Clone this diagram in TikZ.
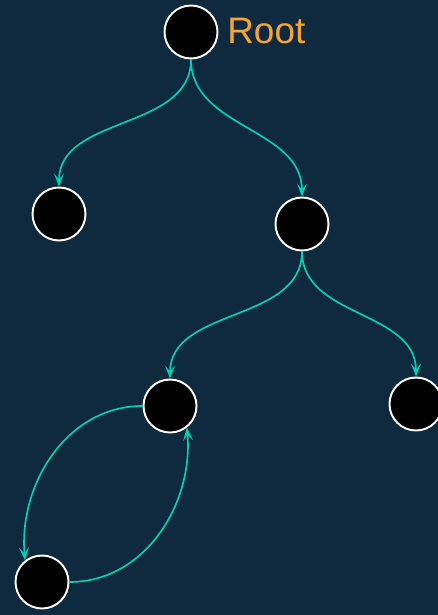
\documentclass[tikz,border=0pt]{standalone}
\usepackage{xcolor}
\usepackage{fontspec}
\setmainfont{Liberation Sans}
\usetikzlibrary{arrows.meta, positioning, calc}

\begin{document}
\begin{tikzpicture}[x=0.02cm, y=-0.02cm]

\definecolor{bgnavy}{HTML}{0F2A3F}
\definecolor{edgeteal}{HTML}{00D2B6}
\definecolor{rootorange}{HTML}{F7A434}

\tikzset{
  treenode/.style={circle, fill=black, draw=white, line width=1.1pt, minimum size=1.06cm, inner sep=0pt},
  edge/.style={-{Stealth[length=2.6mm, width=2mm, inset=1.2mm]}, line width=0.95pt, edgeteal},
  rootlbl/.style={text=rootorange, font=\fontsize{21}{24}\selectfont, anchor=west, inner sep=0pt}
}

%background
\fill[bgnavy] (0,0) rectangle (438,615);
\useasboundingbox (0,0) rectangle (438,615);

%tree
\node[treenode] (root) at (191,32) {};
\node[rootlbl] (rootname) at (227,31) {Root};
\node[treenode] (l) at (59,214) {};
\node[treenode] (r) at (302,224) {};
\node[treenode] (rl) at (170,406) {};
\node[treenode] (rr) at (416,404) {};
\node[treenode] (rll) at (42,582) {};

\draw[edge] (root) to[out=-90, in=90] (l);
\draw[edge] (root) to[out=-90, in=90] (r);
\draw[edge] (r) to[out=-90, in=90] (rl);
\draw[edge] (r) to[out=-90, in=90] (rr);

%cycle
\draw[edge] (rl.west) to[out=180, in=95] (rll.128);
\draw[edge] (rll.east) to[out=0, in=-85] (rl.-52);
\end{tikzpicture}
\end{document}
